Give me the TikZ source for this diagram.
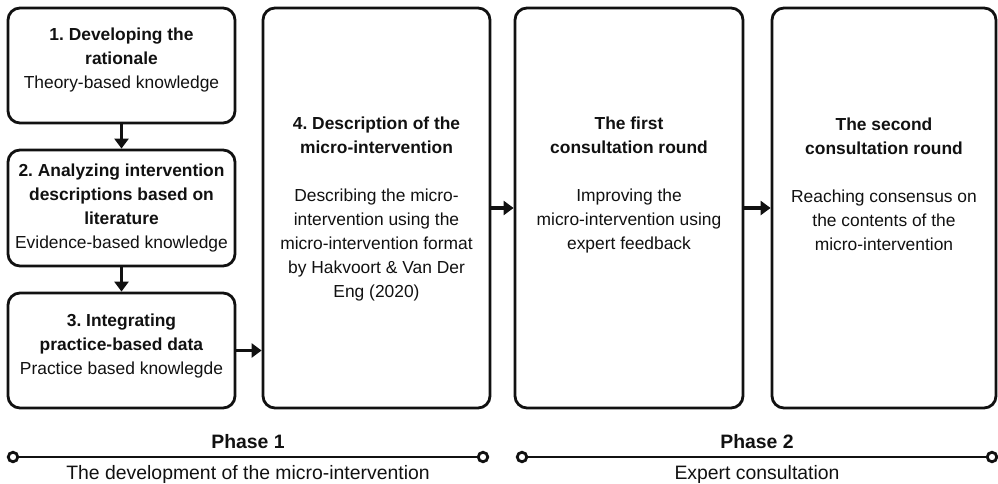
\documentclass[tikz,border=0pt]{standalone}
\usepackage{fontspec}
\setmainfont{Liberation Sans}
\usetikzlibrary{arrows.meta,calc}
\definecolor{ink}{HTML}{111111}
\frenchspacing
\begin{document}
\begin{tikzpicture}[x=1pt,y=-1pt,
  stagebox/.style={draw=ink, line width=2.8pt, rounded corners=12pt, inner sep=0pt},
  boxtext/.style={align=center, inner sep=0pt, text=ink, font=\fontsize{17.4}{24}\selectfont},
  arr/.style={draw=ink, line width=3.2pt, -{Triangle[length=10pt,width=14pt]}},
  endpt/.style={circle, draw=ink, fill=white, line width=2.8pt, minimum size=9.5pt, inner sep=0pt},
  phaseline/.style={draw=ink, line width=2.8pt},
  phasetitle/.style={anchor=base, text=ink, font=\fontsize{19.4}{23}\selectfont\bfseries},
  phasesub/.style={anchor=base, text=ink, font=\fontsize{19.4}{23}\selectfont}]
\useasboundingbox (0,0) rectangle (998,484);

% boxes
\node[stagebox, minimum width=227pt, minimum height=115pt] (b1) at (121.5,65.5) {};
\node[stagebox, minimum width=227pt, minimum height=116pt] (b2) at (121.5,208) {};
\node[stagebox, minimum width=227pt, minimum height=115pt] (b3) at (121.5,350.5) {};
\node[stagebox, minimum width=227pt, minimum height=400pt] (b4) at (376.5,208) {};
\node[stagebox, minimum width=228pt, minimum height=400pt] (b5) at (629,208) {};
\node[stagebox, minimum width=224pt, minimum height=400pt] (b6) at (884,208) {};

% texts
\node[boxtext] (t1) at (121.5,60) {\textbf{1. Developing the}\\\textbf{rationale}\\Theory-based knowledge};
\node[boxtext] (t2) at (121.5,208.3) {\textbf{2. Analyzing intervention}\\\textbf{descriptions based on}\\\textbf{literature}\\Evidence-based knowledge};
\node[boxtext] (t3) at (121.5,346.3) {\textbf{3. Integrating}\\\textbf{practice-based data}\\Practice based knowlegde};
\node[boxtext] (t4) at (376.5,208.7) {\textbf{4. Description of the}\\\textbf{micro-intervention}\\[24pt]Describing the micro-\\intervention using the\\micro-intervention format\\by Hakvoort \& Van Der\\Eng (2020)};
\node[boxtext] (t5) at (629,184.5) {\textbf{The first}\\\textbf{consultation round}\\[24pt]Improving the\\micro-intervention using\\expert feedback};
\node[boxtext] (t6) at (884,184.5) {\textbf{The second}\\\textbf{consultation round}\\[24pt]Reaching consensus on\\the contents of the\\micro-intervention};

% connectors
\draw[arr] (b1) -- (b2);
\draw[arr] (b2) -- (b3);
\draw[arr] (b3.east) -- (b3.east -| b4.west);
\draw[arr] (b4) -- (b5);
\draw[arr] (b5) -- (b6);

% phase lines
\node[endpt] (p1a) at (13,457) {};
\node[endpt] (p1b) at (483,457) {};
\node[endpt] (p2a) at (522,457) {};
\node[endpt] (p2b) at (992,457) {};
\draw[phaseline] (p1a) -- (p1b);
\draw[phaseline] (p2a) -- (p2b);

\node[phasetitle] (ph1) at (248,448.3) {Phase 1};
\node[phasesub] (ph1s) at (248,479) {The development of the micro-intervention};
\node[phasetitle] (ph2) at (757,448.3) {Phase 2};
\node[phasesub] (ph2s) at (757,479) {Expert consultation};
\end{tikzpicture}
\end{document}
